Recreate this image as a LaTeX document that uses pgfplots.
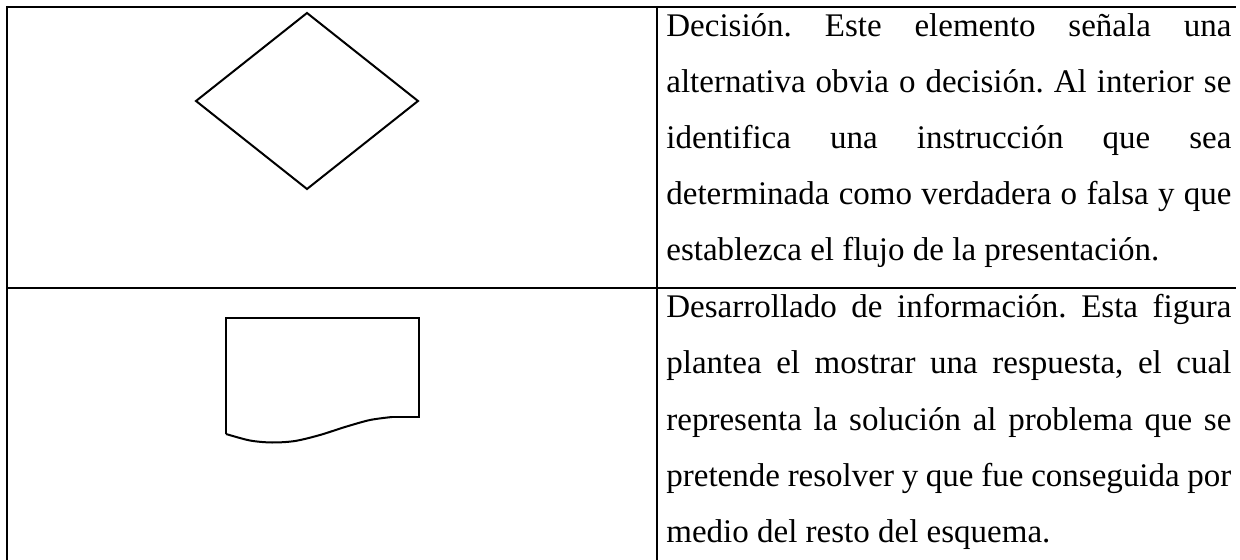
\documentclass[border=0pt]{standalone}
\usepackage{pgfplots}
\pgfplotsset{compat=1.18}
\usepackage{fontspec}
\setmainfont{Liberation Serif}
\frenchspacing
\newcommand{\tl}[3]{\node[anchor=base west, inner sep=0pt] at (axis cs:666,#1) {\fontsize{16.5}{20}\selectfont\frenchspacing\makebox[282.5pt][#2]{#3}};}
\begin{document}
\begin{tikzpicture}
\begin{axis}[
  width=620pt, height=280pt, scale only axis,
  xmin=0, xmax=1240, ymin=0, ymax=560, y dir=reverse,
  hide axis, clip=true,
]
\path (rel axis cs:0,0) rectangle (rel axis cs:1,1);
% table rules
\addplot[black, line width=1.1pt, forget plot] coordinates {(6,7) (1236,7)};
\addplot[black, line width=1.1pt, forget plot] coordinates {(7,6) (7,600)};
\addplot[black, line width=1.1pt, forget plot] coordinates {(657,6) (657,600)};
\addplot[black, line width=1.1pt, forget plot] coordinates {(6,288) (1236,288)};
% decision diamond
\addplot[black, line width=1pt, line join=miter, forget plot] coordinates {(307,13) (418,101) (307,189) (196,101) (307,13)} -- cycle;
% document shape
\addplot[black, line width=1pt, line join=miter, forget plot] coordinates {(226,434) (226,318) (419,318) (419,417) (392,417)};
\addplot[black, line width=1pt, smooth, tension=0.5, forget plot] coordinates {(392,417) (370,420) (345,427) (320,435) (295,441) (272,442.5) (250,440.5) (226,434)};
% text
\tl{37}{s}{Decisión. Este elemento señala una}
\tl{93}{s}{alternativa obvia o decisión. Al interior se}
\tl{149}{s}{identifica una instrucción que sea}
\tl{205}{s}{determinada como verdadera o falsa y que}
\tl{261}{l}{establezca el flujo de la presentación.}
\tl{318}{s}{Desarrollado de información. Esta figura}
\tl{374}{s}{plantea el mostrar una respuesta, el cual}
\tl{430}{s}{representa la solución al problema que se}
\tl{486}{s}{pretende resolver y que fue conseguida por}
\tl{542}{l}{medio del resto del esquema.}
\end{axis}
\end{tikzpicture}
\end{document}
